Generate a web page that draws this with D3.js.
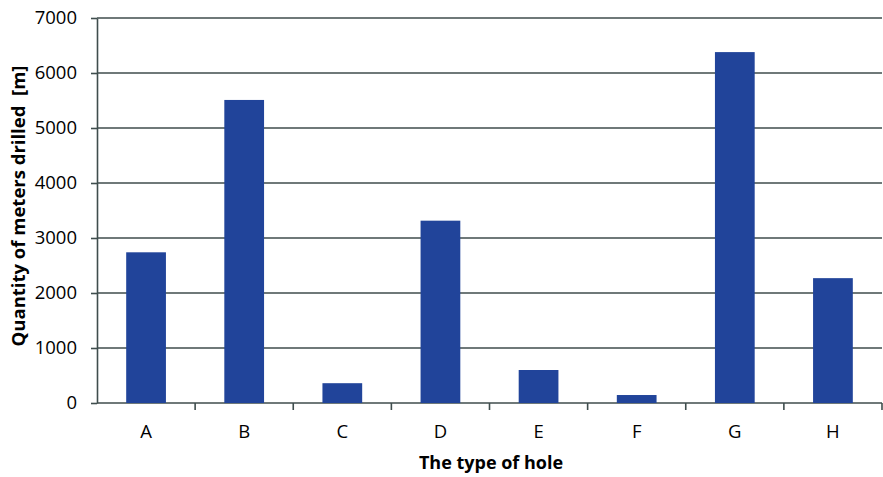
<!DOCTYPE html>
<html>
<head>
<meta charset="utf-8">
<script src="https://cdn.jsdelivr.net/npm/d3@7"></script>
<style>
  body { margin: 0; background: #fff; }
  svg { display: block; }
</style>
</head>
<body>
<svg id="chart" width="883" height="477"></svg>
<script>
// data
const categories = ["A", "B", "C", "D", "E", "F", "G", "H"];
const meters = [2740, 5510, 360, 3315, 600, 145, 6380, 2270];
const yTicks = [0, 1000, 2000, 3000, 4000, 5000, 6000, 7000];

const width = 883;
const height = 477;
const marginTop = 18;
const marginRight = 1;
const marginBottom = 74;
const marginLeft = 97;

const innerWidth = width - marginLeft - marginRight;
const innerHeight = height - marginTop - marginBottom;

const gridColor = "#3f4d4d";
const barColor = "#21449a";
const font = "'Open Sans', sans-serif";

const svg = d3.select("#chart");

const x = d3.scaleBand()
  .domain(categories)
  .range([0, innerWidth])
  .padding(0);

const y = d3.scaleLinear()
  .domain([0, 7000])
  .range([innerHeight, 0]);

const g = svg.append("g")
  .attr("transform", `translate(${marginLeft},${marginTop})`);

// horizontal gridlines
g.append("g")
  .selectAll("line")
  .data(yTicks.filter((d) => d > 0))
  .join("line")
  .attr("x1", 0)
  .attr("x2", innerWidth)
  .attr("y1", (d) => y(d))
  .attr("y2", (d) => y(d))
  .attr("stroke", gridColor)
  .attr("stroke-width", 1.6);

// Y axis
const yAxis = g.append("g")
  .call(
    d3.axisLeft(y)
      .tickValues(yTicks)
      .tickFormat(d3.format("d"))
      .tickSize(6)
      .tickPadding(14)
      .tickSizeOuter(0),
  );
yAxis.select(".domain").attr("stroke", gridColor).attr("stroke-width", 1.6);
yAxis.selectAll(".tick line").attr("stroke", gridColor).attr("stroke-width", 1.6);
yAxis.selectAll("text")
  .style("font-family", font)
  .style("font-size", "18.5px")
  .attr("fill", "#000");

// X axis: ticks sit on band boundaries
const xAxis = g.append("g")
  .attr("transform", `translate(0,${innerHeight})`);
xAxis.append("line")
  .attr("x1", 0)
  .attr("x2", innerWidth)
  .attr("stroke", gridColor)
  .attr("stroke-width", 1.6);
xAxis.selectAll("line.tick")
  .data(categories)
  .join("line")
  .attr("class", "tick")
  .attr("x1", (d) => x(d) + x.bandwidth())
  .attr("x2", (d) => x(d) + x.bandwidth())
  .attr("y1", 0)
  .attr("y2", 7)
  .attr("stroke", gridColor)
  .attr("stroke-width", 1.6);
xAxis.selectAll("text")
  .data(categories)
  .join("text")
  .attr("x", (d) => x(d) + x.bandwidth() / 2)
  .attr("y", 35)
  .attr("text-anchor", "middle")
  .style("font-family", font)
  .style("font-size", "18.5px")
  .text((d) => d);

// Bars
const barW = x.bandwidth() * 0.405;
g.selectAll("rect.bar")
  .data(categories.map((c, i) => ({ label: c, value: meters[i] })))
  .join("rect")
  .attr("class", "bar")
  .attr("x", (d) => x(d.label) + (x.bandwidth() - barW) / 2)
  .attr("y", (d) => y(d.value))
  .attr("width", barW)
  .attr("height", (d) => innerHeight - y(d.value))
  .attr("fill", barColor);

// Axis titles
svg.append("text")
  .attr("x", 491)
  .attr("y", 469)
  .attr("text-anchor", "middle")
  .style("font-family", font)
  .style("font-size", "18px")
  .style("font-weight", "bold")
  .text("The type of hole");

svg.append("text")
  .attr("transform", "translate(25,206) rotate(-90)")
  .attr("text-anchor", "middle")
  .style("font-family", font)
  .style("font-size", "18.5px")
  .style("font-weight", "bold")
  .style("white-space", "pre")
  .text("Quantity of meters drilled  [m]");
</script>
</body>
</html>
